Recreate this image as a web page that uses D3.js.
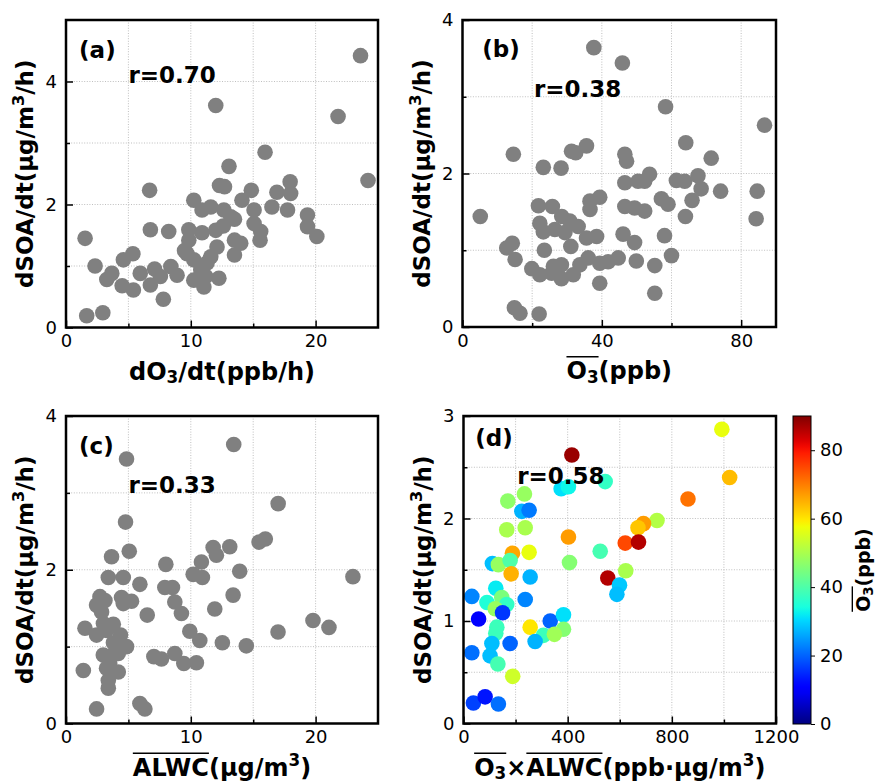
<!DOCTYPE html>
<html>
<head>
<meta charset="utf-8">
<script src="https://cdn.jsdelivr.net/npm/d3@7"></script>
<style>
  body { margin: 0; background: #fff; }
  text { font-family: "DejaVu Sans", sans-serif; }
</style>
</head>
<body>
<svg id="fig" width="875" height="783"></svg>
<script>
// ---- (a) dSOA/dt versus dO3/dt ----
const dO3dt_a = [23.6,12.0,21.8,15.95,24.2,13.06,12.3,12.7,6.7,17.96,14.85,14.1,16.9,18.0,16.5,17.75,10.24,10.9,11.6,12.65,13.5,15.07,15.07,15.6,15.55,19.35,19.35,20.1,1.53,6.76,8.23,9.84,9.84,10.9,12.0,12.1,13.5,14.0,13.5,11.6,9.7,10.24,2.33,4.6,5.36,3.67,3.27,4.5,5.4,5.95,7.1,6.76,7.56,8.4,8.9,7.8,10.24,11.2,11.05,12.25,1.66,2.95,10.8,13.2,12.6,11.3,9.5];
const dSOA_a   = [4.42,3.61,3.43,2.85,2.39,2.62,2.31,2.29,2.23,2.37,2.23,2.07,2.2,2.18,1.96,1.91,2.07,1.91,1.96,1.91,1.76,1.91,1.69,1.56,1.42,1.83,1.64,1.48,1.45,1.59,1.56,1.59,1.42,1.54,1.58,1.31,1.42,1.37,1.18,1.15,1.2,1.1,1.0,1.1,1.2,0.88,0.78,0.68,0.61,0.88,0.95,0.69,0.83,0.99,0.85,0.46,0.77,0.83,0.66,0.8,0.19,0.24,0.94,1.8,1.65,1.05,1.25];

// ---- (b) dSOA/dt versus mean O3 ----
const O3_b   = [37.7,45.9,58.3,86.7,14.6,23.2,28.3,31.3,32.5,35.6,46.6,47.1,64.1,71.4,46.6,50.4,53.7,52.3,61.4,63.8,67.6,68.5,65.9,74.1,84.6,84.3,64.0,57.1,59.0,58.0,60.0,55.2,55.2,46.6,49.4,52.3,36.6,36.6,39.4,5.1,21.8,25.8,28.5,30.8,33.2,22.2,23.2,26.5,29.4,35.6,38.5,46.1,49.4,31.1,23.5,12.7,14.3,15.1,19.9,22.2,26.1,28.4,25.6,28.4,31.8,33.7,36.1,39.4,41.8,44.7,49.9,39.4,14.9,16.5,22.0];
const dSOA_b = [3.64,3.44,2.87,2.63,2.25,2.08,2.07,2.29,2.27,2.36,2.25,2.16,2.4,2.2,1.88,1.9,1.99,1.9,1.91,1.9,1.97,1.8,1.65,1.77,1.77,1.41,1.44,1.67,1.6,1.19,0.93,0.8,0.44,1.57,1.55,1.51,1.64,1.53,1.69,1.44,1.58,1.57,1.44,1.38,1.31,1.35,1.24,1.27,1.23,1.16,1.18,1.21,1.1,1.05,1.0,1.03,1.09,0.88,0.76,0.68,0.79,0.81,0.7,0.63,0.68,0.81,0.9,0.83,0.85,0.9,0.86,0.57,0.25,0.18,0.17];

// ---- (c) dSOA/dt versus mean ALWC ----
const ALWC_c = [13.44,4.85,17.0,4.77,15.47,15.97,11.79,12.05,13.12,5.07,3.65,10.85,10.19,10.93,8.0,13.92,22.99,3.39,4.59,5.92,7.92,8.53,8.72,9.25,13.39,11.92,2.72,3.12,2.45,2.85,4.45,5.25,4.59,6.51,1.52,2.45,3.25,3.79,4.37,4.85,2.99,3.52,4.19,3.25,4.19,3.39,3.39,1.39,2.45,5.92,6.32,7.04,7.65,8.72,9.44,10.45,9.92,10.72,12.53,14.45,16.99,19.79,21.07,3.0,3.8,3.5,2.9];
const dSOA_c = [3.63,3.44,2.86,2.62,2.36,2.4,2.29,2.19,2.3,2.24,2.17,2.1,1.94,1.9,2.07,1.98,1.91,1.9,1.9,1.81,1.77,1.77,1.58,1.43,1.67,1.49,1.65,1.6,1.54,1.45,1.64,1.59,1.56,1.41,1.24,1.15,1.21,1.29,1.15,1.0,0.89,0.87,0.91,0.72,0.67,0.56,0.46,0.69,0.19,0.26,0.19,0.87,0.84,0.91,0.78,0.79,1.2,1.08,1.05,1.01,1.19,1.34,1.25,1.3,1.05,0.78,1.6];

// ---- (d) dSOA/dt versus mean O3 x mean ALWC, coloured by mean O3 ----
const O3xALWC_d = [992,1022,862,416,544,375,403,170,234,224,252,166,237,743,691,670,403,621,672,525,188,252,111,134,179,183,407,623,256,554,599,589,124,32,90,147,166,237,122,150,58,333,384,384,256,307,349,275,128,124,109,179,32,102,132,189,38,83,134];
const dSOA_d    = [2.87,2.4,2.19,2.62,2.36,2.29,2.31,2.17,2.24,2.07,2.08,1.89,1.91,1.98,1.95,1.91,1.82,1.76,1.77,1.68,1.66,1.67,1.56,1.55,1.59,1.46,1.57,1.49,1.43,1.42,1.35,1.26,1.32,1.24,1.18,1.23,1.16,1.21,1.12,1.08,1.02,1.0,1.06,0.92,0.94,0.86,0.87,0.8,0.94,0.88,0.78,0.78,0.69,0.66,0.58,0.46,0.2,0.26,0.19];
const O3_d      = [57,64,71,88,37,31,33,47,48,27,22,50,50,51,67,63,67,75,86,39,66,57,28,48,40,65,46,50,27,86,29,28,32,23,35,45,37,23,48,16,11,20,31,46,60,38,49,27,38,38,28,20,21,28,39,54,17,13,21];

// ---- axis ticks ----
const ticksA = { xMajor: [0, 10, 20], xMinor: [5, 15], yMajor: [0, 2, 4], yMinor: [1, 3] };
const ticksB = { xMajor: [0, 40, 80], xMinor: [20, 60], yMajor: [0, 2, 4], yMinor: [1, 3] };
const ticksC = { xMajor: [0, 10, 20], xMinor: [5, 15], yMajor: [0, 2, 4], yMinor: [1, 3] };
const ticksD = { xMajor: [0, 400, 800, 1200], xMinor: [200, 600, 1000], yMajor: [0, 1, 2, 3], yMinor: [0.5, 1.5, 2.5] };
const colorbarTicks = [0, 20, 40, 60, 80];

const panelTags = ["(a)", "(b)", "(c)", "(d)"];
const rTexts = ["r=0.70", "r=0.38", "r=0.33", "r=0.58"];

// ---- jet colour map ----
const jetR = [[0, 0], [0.35, 0], [0.66, 1], [0.89, 1], [1, 0.5]];
const jetG = [[0, 0], [0.125, 0], [0.375, 1], [0.64, 1], [0.91, 0], [1, 0]];
const jetB = [[0, 0.5], [0.11, 1], [0.34, 1], [0.65, 0], [1, 0]];
function channel(t, pts) {
  for (let i = 1; i < pts.length; i++) {
    if (t <= pts[i][0]) {
      const [x0, y0] = pts[i - 1], [x1, y1] = pts[i];
      return y0 + (y1 - y0) * (t - x0) / (x1 - x0);
    }
  }
  return pts[pts.length - 1][1];
}
function jet(t) {
  t = Math.max(0, Math.min(1, t));
  return d3.rgb(255 * channel(t, jetR), 255 * channel(t, jetG), 255 * channel(t, jetB)).formatHex();
}
const colour = d3.scaleSequential(jet).domain([0, 90]);

const svg = d3.select("#fig");
svg.append("rect").attr("width", 875).attr("height", 783).attr("fill", "#fff");

const FS_TICK = 18, FS_XLABEL = 24, FS_YLABEL = 23, FS_TAG = 23;

// Rich label: parts with optional sub/sup and overline groups
function richLabel(g, parts, fs) {
  const t = g.append("text").attr("x", 0).attr("y", 0)
    .attr("text-anchor", "middle").attr("font-weight", "bold").attr("font-size", fs);
  let off = 0, idx = 0;
  const groups = {};
  parts.forEach(p => {
    const target = p.sub ? 0.16 * fs : p.sup ? -0.38 * fs : 0;
    const ts = t.append("tspan").text(p.t).attr("dy", target - off);
    if (p.sub || p.sup) ts.attr("font-size", fs * 0.7);
    off = target;
    if (p.over !== undefined) {
      const gr = groups[p.over] || (groups[p.over] = { s: idx, e: idx });
      gr.e = idx + p.t.length - 1;
    }
    idx += p.t.length;
  });
  const node = t.node();
  Object.values(groups).forEach(gr => {
    const x0 = node.getStartPositionOfChar(gr.s).x;
    const x1 = node.getEndPositionOfChar(gr.e).x;
    g.append("line").attr("x1", x0).attr("x2", x1)
      .attr("y1", -0.93 * fs).attr("y2", -0.93 * fs)
      .attr("stroke", "#000").attr("stroke-width", 1.4);
  });
  return t;
}

const yLabelParts = [{ t: "dSOA/dt(μg/m" }, { t: "3", sup: true }, { t: "/h)" }];

const panels = [
  { xs: dO3dt_a, ys: dSOA_a, ticks: ticksA, xDomain: [0, 25], yDomain: [0, 5],
    left: 66, right: 378, top: 20, bottom: 327.5, tagAt: [1.05, 4.39], rAt: [5, 3.98],
    xLabel: [{ t: "dO" }, { t: "3", sub: true }, { t: "/dt(ppb/h)" }] },
  { xs: O3_b, ys: dSOA_b, ticks: ticksB, xDomain: [0, 90], yDomain: [0, 4],
    left: 462.5, right: 776, top: 20, bottom: 327, tagAt: [5.7, 3.52], rAt: [20.5, 3.0],
    xLabel: [{ t: "O", over: 0 }, { t: "3", sub: true, over: 0 }, { t: "(ppb)" }] },
  { xs: ALWC_c, ys: dSOA_c, ticks: ticksC, xDomain: [0, 25], yDomain: [0, 4],
    left: 66, right: 378, top: 416, bottom: 723.5, tagAt: [1.05, 3.5], rAt: [5, 3.0],
    xLabel: [{ t: "ALWC", over: 0 }, { t: "(μg/m" }, { t: "3", sup: true }, { t: ")" }] },
  { xs: O3xALWC_d, ys: dSOA_d, cs: O3_d, ticks: ticksD, xDomain: [0, 1200], yDomain: [0, 3],
    left: 463.5, right: 776, top: 416, bottom: 723.5, tagAt: [45, 2.71], rAt: [206, 2.34],
    xLabel: [{ t: "O", over: 0 }, { t: "3", sub: true, over: 0 }, { t: "×" },
             { t: "ALWC", over: 1 }, { t: "(ppb·μg/m" }, { t: "3", sup: true }, { t: ")" }] }
];

panels.forEach((p, i) => {
  const g = svg.append("g");
  const x = d3.scaleLinear(p.xDomain, [p.left, p.right]);
  const y = d3.scaleLinear(p.yDomain, [p.bottom, p.top]);
  const xGrid = p.ticks.xMajor.concat(p.ticks.xMinor).filter(v => v > p.xDomain[0] && v < p.xDomain[1]);
  const yStep = (p.ticks.yMajor[1] - p.ticks.yMajor[0]) / 2;
  const yGrid = d3.range(p.yDomain[0], p.yDomain[1] + 1e-9, yStep)
    .filter(v => v > p.yDomain[0] && v < p.yDomain[1]);

  // dotted grid
  const grid = g.append("g").attr("stroke", "#b8b8b8").attr("stroke-width", 0.9).attr("stroke-dasharray", "1,1.6");
  grid.selectAll("line.gx").data(xGrid).join("line").attr("class", "gx")
    .attr("x1", d => x(d)).attr("x2", d => x(d)).attr("y1", p.top).attr("y2", p.bottom);
  grid.selectAll("line.gy").data(yGrid).join("line").attr("class", "gy")
    .attr("y1", d => y(d)).attr("y2", d => y(d)).attr("x1", p.left).attr("x2", p.right);

  // points
  const pts = p.xs.map((v, k) => ({ x: v, y: p.ys[k], c: p.cs ? p.cs[k] : null }));
  g.append("g").selectAll("circle").data(pts).join("circle")
    .attr("cx", d => x(d.x)).attr("cy", d => y(d.y)).attr("r", 7.8)
    .attr("fill", d => d.c === null ? "#808080" : colour(d.c));

  // axes with inward ticks
  const fmt = d3.format("d");
  const axX = g.append("g").attr("transform", `translate(0,${p.bottom})`)
    .call(d3.axisBottom(x).tickValues(p.ticks.xMajor).tickSizeInner(-7).tickSizeOuter(0).tickPadding(7).tickFormat(fmt));
  const axXm = g.append("g").attr("transform", `translate(0,${p.bottom})`)
    .call(d3.axisBottom(x).tickValues(p.ticks.xMinor).tickSizeInner(-4).tickSizeOuter(0).tickFormat(""));
  const axY = g.append("g").attr("transform", `translate(${p.left},0)`)
    .call(d3.axisLeft(y).tickValues(p.ticks.yMajor).tickSizeInner(-7).tickSizeOuter(0).tickPadding(9).tickFormat(d3.format("~g")));
  const axYm = g.append("g").attr("transform", `translate(${p.left},0)`)
    .call(d3.axisLeft(y).tickValues(p.ticks.yMinor).tickSizeInner(-4).tickSizeOuter(0).tickFormat(""));
  [axX, axXm, axY, axYm].forEach(a => {
    a.select(".domain").remove();
    a.selectAll(".tick line").attr("stroke", "#000").attr("stroke-width", 1.5);
    a.selectAll("text").attr("font-size", FS_TICK).attr("font-family", "DejaVu Sans").attr("fill", "#000");
  });

  // frame
  g.append("rect").attr("x", p.left).attr("y", p.top)
    .attr("width", p.right - p.left).attr("height", p.bottom - p.top)
    .attr("fill", "none").attr("stroke", "#000").attr("stroke-width", 2.5);

  // panel tag and correlation coefficient
  g.append("text").attr("x", x(p.tagAt[0])).attr("y", y(p.tagAt[1]))
    .attr("font-size", FS_TAG).attr("font-weight", "bold").text(panelTags[i]);
  g.append("text").attr("x", x(p.rAt[0])).attr("y", y(p.rAt[1]))
    .attr("font-size", FS_TAG).attr("font-weight", "bold").text(rTexts[i]);

  // axis titles
  const xl = g.append("g").attr("transform", `translate(${(p.left + p.right) / 2},${p.bottom + 52})`);
  richLabel(xl, p.xLabel, FS_XLABEL);
  const yl = g.append("g").attr("transform", `translate(${p.left - 33},${(p.top + p.bottom) / 2}) rotate(-90)`);
  richLabel(yl, yLabelParts, FS_YLABEL);
});

// ---- colour bar ----
const cb = { left: 793, right: 811, top: 416, bottom: 724 };
const cbScale = d3.scaleLinear([0, 90], [cb.bottom, cb.top]);
const defs = svg.append("defs");
const grad = defs.append("linearGradient").attr("id", "jetgrad")
  .attr("x1", 0).attr("y1", 1).attr("x2", 0).attr("y2", 0);
grad.selectAll("stop").data(d3.range(0, 1.0001, 0.02)).join("stop")
  .attr("offset", d => d).attr("stop-color", d => colour(d * 90));
svg.append("rect").attr("x", cb.left).attr("y", cb.top)
  .attr("width", cb.right - cb.left).attr("height", cb.bottom - cb.top)
  .attr("fill", "url(#jetgrad)").attr("stroke", "#000").attr("stroke-width", 1);
const cbAxis = svg.append("g").attr("transform", `translate(${cb.right},0)`)
  .call(d3.axisRight(cbScale).tickValues(colorbarTicks).tickSizeInner(4).tickSizeOuter(0).tickPadding(5));
cbAxis.select(".domain").remove();
cbAxis.selectAll(".tick line").attr("stroke", "#000").attr("stroke-width", 1);
cbAxis.selectAll("text").attr("font-size", FS_TICK).attr("font-family", "DejaVu Sans").attr("fill", "#000");
const cbl = svg.append("g").attr("transform", `translate(870,${(cb.top + cb.bottom) / 2}) rotate(-90)`);
richLabel(cbl, [{ t: "O", over: 0 }, { t: "3", sub: true, over: 0 }, { t: "(ppb)" }], 19);
</script>
</body>
</html>
